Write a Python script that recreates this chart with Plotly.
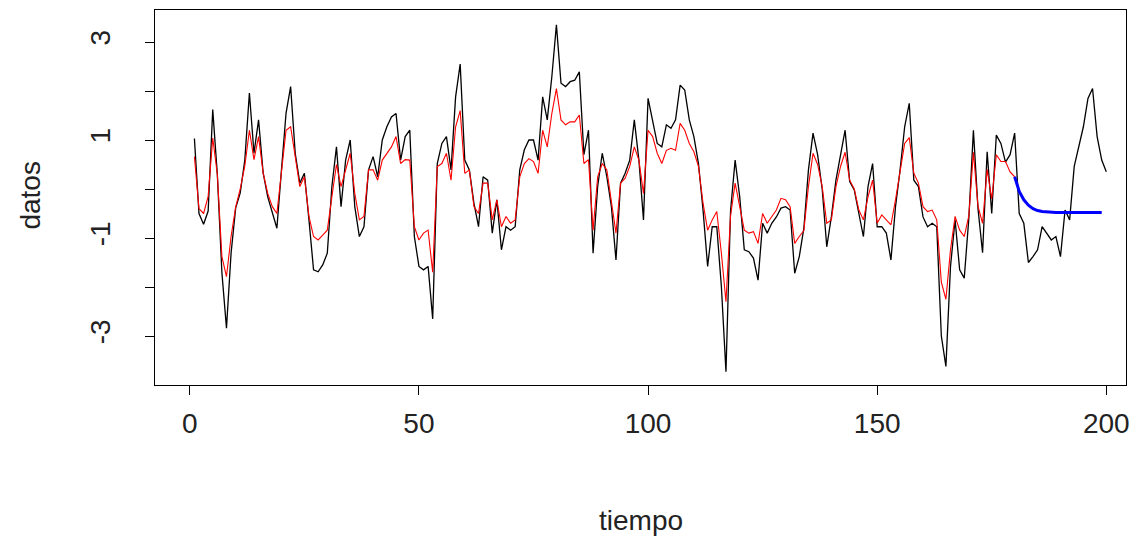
import plotly.graph_objects as go

tiempo = list(range(1, 201))

datos = [
    1.03, -0.50, -0.72, -0.45, 1.62, 0.30, -1.71, -2.84, -1.31, -0.39,
    -0.08, 0.59, 1.96, 0.73, 1.41, 0.33, -0.16, -0.50, -0.80, 0.39,
    1.55, 2.09, 0.73, 0.12, 0.32, -0.63, -1.65, -1.69, -1.55, -1.31,
    0.05, 0.86, -0.36, 0.59, 1.00, -0.36, -0.97, -0.77, 0.39, 0.66,
    0.25, 1.00, 1.27, 1.47, 1.54, 0.59, 1.07, 1.20, -0.97, -1.58,
    -1.65, -1.58, -2.65, 0.52, 0.93, 1.07, 0.39, 1.88, 2.55, 0.59,
    0.39, -0.29, -0.77, 0.25, 0.18, -0.90, -0.22, -1.24, -0.77, -0.84,
    -0.77, 0.39, 0.80, 1.00, 1.00, 0.59, 1.88, 1.41, 2.29, 3.35,
    2.16, 2.09, 2.19, 2.22, 2.39, 0.70, 1.20, -1.31, 0.05, 0.73,
    0.25, -0.36, -1.45, 0.12, 0.32, 0.59, 1.41, 0.59, -0.63, 1.85,
    1.41, 0.93, 0.86, 1.31, 1.24, 1.41, 2.12, 2.02, 1.41, 1.07,
    0.52, -0.43, -1.58, -0.77, -0.77, -1.99, -3.73, -0.45, 0.59, -0.16,
    -1.24, -1.28, -1.41, -1.86, -0.70, -0.90, -0.70, -0.57, -0.39, -0.36,
    -0.43, -1.72, -1.38, -0.80, 0.39, 1.14, 0.70, 0.00, -1.18, -0.57,
    0.18, 0.73, 1.20, 0.15, -0.02, -0.50, -0.97, 0.05, 0.52, -0.77,
    -0.77, -0.90, -1.45, -0.36, 0.39, 1.27, 1.75, 0.18, 0.05, -0.57,
    -0.77, -0.70, -0.77, -3.00, -3.62, -1.58, -0.63, -1.65, -1.82, -0.60,
    1.20, -0.40, -1.30, 0.76, -0.50, 1.10, 0.93, 0.55, 0.70, 1.14,
    -0.50, -0.70, -1.50, -1.38, -1.24, -0.77, -0.90, -1.04, -0.97, -1.38,
    -0.43, -0.63, 0.46, 0.86, 1.27, 1.85, 2.05, 1.07, 0.59, 0.35,
]

ajuste_t = list(range(1, 181))
ajuste = [
    0.66, -0.40, -0.50, -0.15, 1.04, 0.30, -1.38, -1.79, -0.97, -0.37,
    0.00, 0.47, 1.20, 0.60, 1.07, 0.33, -0.09, -0.36, -0.50, 0.32,
    1.20, 1.27, 0.66, 0.05, 0.25, -0.56, -0.97, -1.04, -0.94, -0.84,
    -0.16, 0.50, 0.05, 0.39, 0.73, -0.09, -0.63, -0.56, 0.39, 0.39,
    0.18, 0.59, 0.73, 0.86, 1.07, 0.52, 0.60, 0.59, -0.77, -1.04,
    -0.90, -0.84, -1.70, 0.46, 0.52, 0.73, 0.18, 1.27, 1.60, 0.32,
    0.39, -0.36, -0.50, 0.12, 0.12, -0.63, -0.22, -0.77, -0.56, -0.70,
    -0.63, 0.25, 0.52, 0.62, 0.56, 0.32, 1.20, 0.86, 1.54, 2.05,
    1.41, 1.31, 1.37, 1.37, 1.51, 0.52, 0.60, -0.84, 0.25, 0.52,
    0.39, -0.22, -0.90, 0.12, 0.22, 0.46, 0.86, 0.59, -0.09, 1.20,
    1.07, 0.73, 0.52, 0.79, 0.83, 0.79, 1.34, 1.20, 0.93, 0.76,
    0.46, -0.29, -0.84, -0.63, -0.46, -1.31, -2.30, -0.55, 0.12, -0.36,
    -0.84, -0.90, -0.87, -1.11, -0.50, -0.70, -0.56, -0.43, -0.19, -0.22,
    -0.36, -1.11, -0.97, -0.85, 0.05, 0.73, 0.50, 0.05, -0.70, -0.63,
    0.05, 0.46, 0.75, 0.18, 0.00, -0.43, -0.63, -0.16, 0.18, -0.70,
    -0.53, -0.63, -0.73, -0.22, 0.32, 0.93, 1.05, 0.32, 0.12, -0.36,
    -0.46, -0.43, -0.63, -1.90, -2.25, -1.24, -0.56, -0.84, -0.97, -0.55,
    0.75, -0.35, -0.70, 0.40, -0.20, 0.70, 0.56, 0.56, 0.35, 0.25,
]

pred_t = list(range(180, 200))
pred = [
    0.25, -0.05, -0.22, -0.33, -0.40, -0.44, -0.46, -0.47, -0.48, -0.48,
    -0.48, -0.48, -0.48, -0.48, -0.48, -0.48, -0.48, -0.48, -0.48, -0.48,
]

x_ticks = [0, 50, 100, 150, 200]
y_ticks = [-3, -2, -1, 0, 1, 2, 3]
y_labels = ["-3", "", "-1", "", "1", "", "3"]

FONT = "Liberation Sans, Arial, sans-serif"
TXT = "#222222"
FS = 28

fig = go.Figure()
fig.add_trace(go.Scatter(x=tiempo, y=datos, mode="lines",
                         line=dict(color="black", width=1.3), showlegend=False))
fig.add_trace(go.Scatter(x=ajuste_t, y=ajuste, mode="lines",
                         line=dict(color="red", width=1.1), showlegend=False))
fig.add_trace(go.Scatter(x=pred_t, y=pred, mode="lines",
                         line=dict(color="blue", width=3), showlegend=False))

fig.update_layout(
    width=1138, height=540,
    margin=dict(l=155, r=8, t=10, b=155),
    paper_bgcolor="white", plot_bgcolor="white",
    font=dict(family=FONT, size=FS, color=TXT),
    xaxis=dict(range=[-7.6, 204.3], tickvals=x_ticks, ticktext=[str(v) for v in x_ticks],
               showgrid=False, zeroline=False, showline=True, mirror=True,
               linecolor="black", linewidth=1, ticks="outside", ticklen=9,
               tickcolor="black", tickwidth=1, ticklabelstandoff=4,
               tickfont=dict(family=FONT, size=FS, color=TXT)),
    yaxis=dict(range=[-4.0, 3.653], tickvals=y_ticks, ticktext=y_labels,
               showgrid=False, zeroline=False, showline=True, mirror=True,
               linecolor="black", linewidth=1, ticks="outside", ticklen=9,
               tickcolor="black", tickwidth=1, tickangle=-90, ticklabelstandoff=24,
               tickfont=dict(family=FONT, size=FS, color=TXT)),
    annotations=[
        dict(text="tiempo", xref="paper", yref="paper", x=0.5, y=-0.36,
             showarrow=False, xanchor="center", yanchor="middle",
             font=dict(family=FONT, size=FS, color=TXT)),
        dict(text="datos", xref="paper", yref="paper", x=-0.128, y=0.507,
             showarrow=False, xanchor="center", yanchor="middle", textangle=-90,
             font=dict(family=FONT, size=FS, color=TXT)),
    ],
)

fig.write_html("out.html")
